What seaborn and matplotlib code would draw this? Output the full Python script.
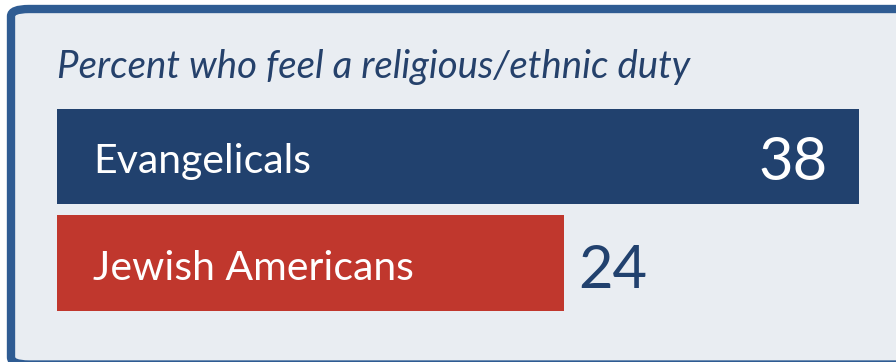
"""Percent who feel a religious/ethnic duty — horizontal bar panel."""

import matplotlib
import seaborn as sns

matplotlib.use("Agg")
import matplotlib.pyplot as plt
from matplotlib.patches import FancyBboxPatch

# ── Data ─────────────────────────────────────────────────────────────────────
groups = ["Evangelicals", "Jewish Americans"]
percent = [38, 24]
title = "Percent who feel a religious/ethnic duty"

NAVY = "#21416e"
RED = "#c0372d"
PANEL = "#e9edf2"
BORDER = "#2f5c93"

W, H = 896, 362
PX_PER_UNIT = 802 / 38  # bar length in pixels per percent point
PT = 0.72  # points per pixel at dpi 100


def main() -> None:
    sns.set_theme(style="white")
    plt.rcParams["font.family"] = ["Lato", "DejaVu Sans"]

    fig = plt.figure(figsize=(W / 100, H / 100), dpi=100, facecolor="white")

    # panel with rounded border, running off the right edge
    panel = FancyBboxPatch(
        (11 / W, -2.5 / H), 1.2, 1 - 9 / H + 2.5 / H,
        boxstyle="round,pad=0,rounding_size=0.02",
        transform=fig.transFigure, facecolor=PANEL, edgecolor=BORDER,
        linewidth=6, zorder=-5,
    )
    fig.patches.append(panel)

    # axes: left at bar start, 1 category step = 106.5 px
    step = 106.5
    top_px = 156.5 - 0.55 * step
    bot_px = 263 + 0.55 * step
    ax = fig.add_axes([57 / W, 1 - bot_px / H, 1 - 57 / W, (bot_px - top_px) / H])
    ax.set_facecolor("none")
    ax.set_zorder(2)

    sns.barplot(
        x=percent, y=groups, hue=groups, palette=[NAVY, RED],
        orient="h", width=0.9, legend=False, saturation=1, linewidth=0, ax=ax,
    )
    ax.set_xlim(0, (W - 57) / PX_PER_UNIT)
    ax.set_ylim(1.55, -0.55)
    ax.axis("off")

    for i, (g, v) in enumerate(zip(groups, percent)):
        ax.annotate(
            g, (0, i), xytext=(36 * PT, -16.5 * PT), textcoords="offset points",
            ha="left", va="baseline", color="white", fontsize=29.5,
        )
        if i == 0:
            ax.annotate(
                str(v), (v, i), xytext=(-31 * PT, -24 * PT), textcoords="offset points",
                ha="right", va="baseline", color="white", fontsize=43,
            )
        else:
            ax.annotate(
                str(v), (v, i), xytext=(15 * PT, -25.5 * PT), textcoords="offset points",
                ha="left", va="baseline", color=NAVY, fontsize=43,
            )

    fig.text(
        57 / W, 1 - 78 / H, title, ha="left", va="baseline",
        color="#25416b", fontsize=27.6, fontstyle="italic", zorder=3,
    )

    fig.savefig("out.png", dpi=100, facecolor="white")


if __name__ == "__main__":
    main()
